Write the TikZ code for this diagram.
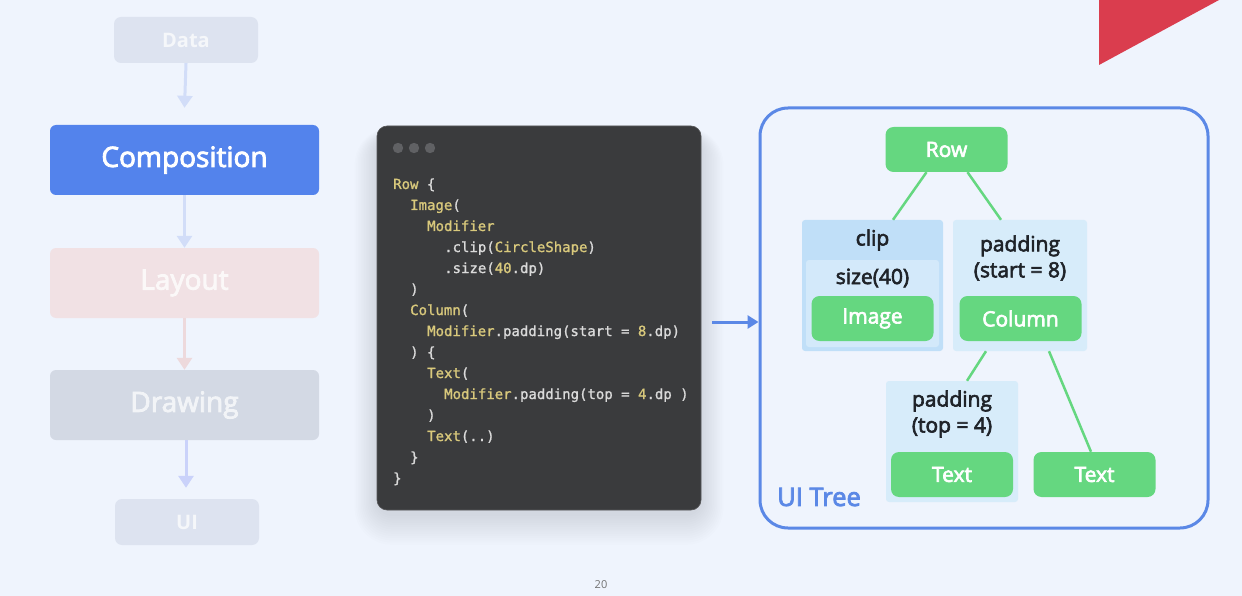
\documentclass[tikz,border=0pt]{standalone}
\usepackage{fontspec}
\setmainfont{Open Sans}
\newfontfamily\medfont[FakeBold=3]{Open Sans}
\newfontfamily\codefont[FakeBold=1.2]{DejaVu Sans Mono}
\usetikzlibrary{arrows.meta}
\definecolor{bg}{HTML}{EFF4FD}
\definecolor{redtri}{HTML}{DA3D4E}
\definecolor{compblue}{HTML}{5383EC}
\definecolor{fadegrey}{HTML}{DDE3F0}
\definecolor{fadepink}{HTML}{F1E1E4}
\definecolor{fadedraw}{HTML}{D3D9E4}
\definecolor{fadearrow}{HTML}{D2DDF8}
\definecolor{pinkarrow}{HTML}{EDD9DC}
\definecolor{codebg}{HTML}{3A3B3D}
\definecolor{codedot}{HTML}{606164}
\definecolor{codey}{HTML}{D9C97C}
\definecolor{codew}{HTML}{DADADA}
\definecolor{treeblue}{HTML}{5B88E6}
\definecolor{green}{HTML}{65D780}
\definecolor{clipblue}{HTML}{C0DFF8}
\definecolor{sizeblue}{HTML}{D3E9FA}
\definecolor{padblue}{HTML}{D7ECFA}
\definecolor{darktext}{HTML}{1F2329}
\newcommand{\ky}[1]{\textcolor{codey}{#1}}
\tikzset{
  stage/.style={rounded corners=6pt, minimum width=269pt, minimum height=70pt, inner sep=0pt, font=\medfont\fontsize{28}{32}\selectfont},
  small/.style={rounded corners=7pt, minimum width=144pt, minimum height=46pt, inner sep=0pt, font=\bfseries\fontsize{20}{24}\selectfont, text=white},
  flowarrow/.style={line width=3pt, -{Triangle[length=12pt,width=15pt]}},
  codeline/.style={anchor=base west, inner sep=0pt, text=codew, font=\codefont\fontsize{14}{16}\selectfont},
  gnode/.style={fill=green, rounded corners=8pt, minimum width=122pt, minimum height=45pt, inner sep=0pt, text=white, font=\medfont\fontsize{21}{24}\selectfont},
  mbox/.style={rounded corners=3pt, inner sep=0pt},
  mlabel/.style={text=darktext, inner sep=0pt, align=center, font=\medfont\fontsize{21}{26}\selectfont},
  edge/.style={green, line width=2.5pt}
}
\begin{document}
\begin{tikzpicture}[x=1pt,y=-1pt]
\fill[bg] (0,0) rectangle (1242,596);
\useasboundingbox (0,0) rectangle (1242,596);
% red corner triangle
\fill[redtri] (1099,0) -- (1219,0) -- (1099,65) -- cycle;

% left pipeline
\node[small, fill=fadegrey, text=white!70!fadegrey] (data) at (186,40) {Data};
\node[stage, fill=compblue, text=white] (comp) at (184.5,160) {Composition};
\node[stage, fill=fadepink, text=white!75!fadepink] (layout) at (184.5,283) {Layout};
\node[stage, fill=fadedraw, text=white!70!fadedraw] (drawing) at (184.5,405) {Drawing};
\node[small, fill=fadegrey, text=white!70!fadegrey] (ui) at (187,522) {UI};
\draw[flowarrow, fadearrow] (data.south) -- ([yshift=17pt]comp.north);
\draw[flowarrow, fadearrow] (comp.south) -- (layout.north);
\draw[flowarrow, pinkarrow] (layout.south) -- (drawing.north);
\draw[flowarrow, fadearrow!90!blue!80!white] ([xshift=1.5pt]drawing.south) -- ([xshift=-1pt,yshift=11pt]ui.north);

% code panel shadow
\foreach \i in {1,...,14}{
  \fill[black, opacity=0.009, rounded corners=16pt+\i*1.5pt] (377-\i*1.6,136-\i*0.6) rectangle (701+\i*1.6,514+\i*2.2);
}
\node[fill=codebg, draw=codebg!85!white, line width=0.6pt, rounded corners=10pt, minimum width=324pt, minimum height=384pt, inner sep=0pt] (code) at (539,318) {};
\foreach \dx in {398,414,430}{ \fill[codedot] (\dx,148) circle (5.2pt); }

\node[codeline] (l1) at (393,189) {\ky{Row} \{};
\node[codeline] (l2) at (410,210) {\ky{Image}(};
\node[codeline] (l3) at (427,231) {\ky{Modifier}};
\node[codeline] (l4) at (444,252) {.clip(\ky{CircleShape})};
\node[codeline] (l5) at (444,273) {.size(\ky{40}.dp)};
\node[codeline] (l6) at (410,294) {)};
\node[codeline] (l7) at (410,315) {\ky{Column}(};
\node[codeline] (l8) at (427,336) {\ky{Modifier}.padding(start = \ky{8}.dp)};
\node[codeline] (l9) at (410,357) {) \{};
\node[codeline] (l10) at (427,378) {\ky{Text}(};
\node[codeline] (l11) at (444,399) {\ky{Modifier}.padding(top = \ky{4}.dp )};
\node[codeline] (l12) at (427,420) {)};
\node[codeline] (l13) at (427,441) {\ky{Text}(..)};
\node[codeline] (l14) at (410,462) {\}};
\node[codeline] (l15) at (393,483) {\}};

% UI tree frame
\node[draw=treeblue, line width=3pt, rounded corners=28pt, minimum width=448pt, minimum height=420pt, inner sep=0pt] (tree) at (984,318) {};
\node[text=treeblue, anchor=west, inner sep=0pt, font=\medfont\fontsize{25.5}{30}\selectfont] (treelbl) at (777,497) {UI Tree};
\coordinate (arrstart) at (712,322);
\draw[treeblue, line width=3pt, -{Triangle[length=11pt,width=13pt]}] (arrstart) -- (tree.west |- arrstart);

% tree nodes
\node[gnode] (row) at (946.5,149.5) {Row};

\node[mbox, fill=clipblue, minimum width=141pt, minimum height=131pt] (clipbox) at (872.5,285.5) {};
\node[mlabel] (cliplbl) at (872.5,240) {clip};
\node[mbox, fill=sizeblue, minimum width=133pt, minimum height=87pt] (sizebox) at (872.5,303.5) {};
\node[mlabel] (sizelbl) at (872.5,278) {size(40)};
\node[gnode] (image) at (872.5,318.5) {Image};

\node[mbox, fill=padblue, minimum width=134pt, minimum height=131pt] (padbox) at (1020,285.5) {};
\node[mlabel] (padlbl) at (1020,258) {padding\\(start = 8)};
\node[gnode] (column) at (1020.5,318.5) {Column};

\node[mbox, fill=padblue, minimum width=132pt, minimum height=121pt] (padtopbox) at (952,441.5) {};
\node[mlabel] (padtoplbl) at (952,414) {padding\\(top = 4)};
\node[gnode] (text1) at (952,474.5) {Text};
\node[gnode] (text2) at (1094.5,474.5) {Text};

\draw[edge] ([xshift=-20pt]row.south) -- ([xshift=20.5pt]clipbox.north);
\draw[edge] ([xshift=21pt]row.south) -- ([xshift=-19pt]padbox.north);
\draw[edge] ([xshift=-34pt]padbox.south) -- ([xshift=15pt]padtopbox.north);
\draw[edge] ([xshift=29pt]padbox.south) -- ([xshift=-3.5pt]text2.north);

% page number
\node[text=black!55, font=\fontsize{11}{13}\selectfont] (pnum) at (601,585) {20};
\end{tikzpicture}
\end{document}
